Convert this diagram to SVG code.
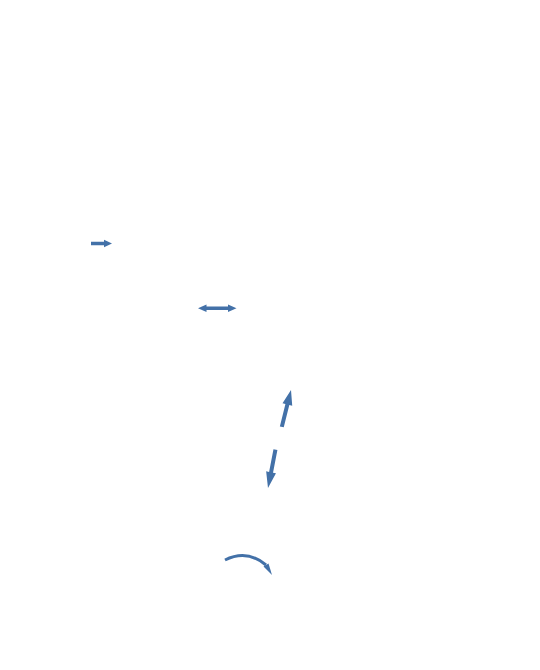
<svg xmlns="http://www.w3.org/2000/svg" width="540" height="670" viewBox="0 0 540 670">
<style>
.a{fill:#4371a8;stroke:none}
.s{fill:none;stroke:#4371a8;stroke-width:3}
</style>
<rect width="540" height="670" fill="#fff"/>
<g id="connectors">
<polygon class="a" points="91,241.7 104,241.7 104,239.8 112,243.5 104,247.2 104,245.3 91,245.3"/>
<polygon class="a" points="198,308.3 206.5,304.5 206.5,306.5 228,306.5 228,304.5 236.5,308.3 228,312.1 228,310.1 206.5,310.1 206.5,312.1"/>
<g transform="translate(291,390) rotate(14)">
<polygon class="a" points="0,0 5,15 2,15 2,38 -2,38 -2,15 -5,15"/>
</g>
<g transform="translate(268,488) rotate(191)">
<polygon class="a" points="0,0 5,16 2,16 2,39 -2,39 -2,16 -5,16"/>
</g>
<path class="s" d="M225,560 Q247,549 266,565"/>
<polygon class="a" points="263.5,566.5 268.5,563.5 272,575"/>
</g>
</svg>
